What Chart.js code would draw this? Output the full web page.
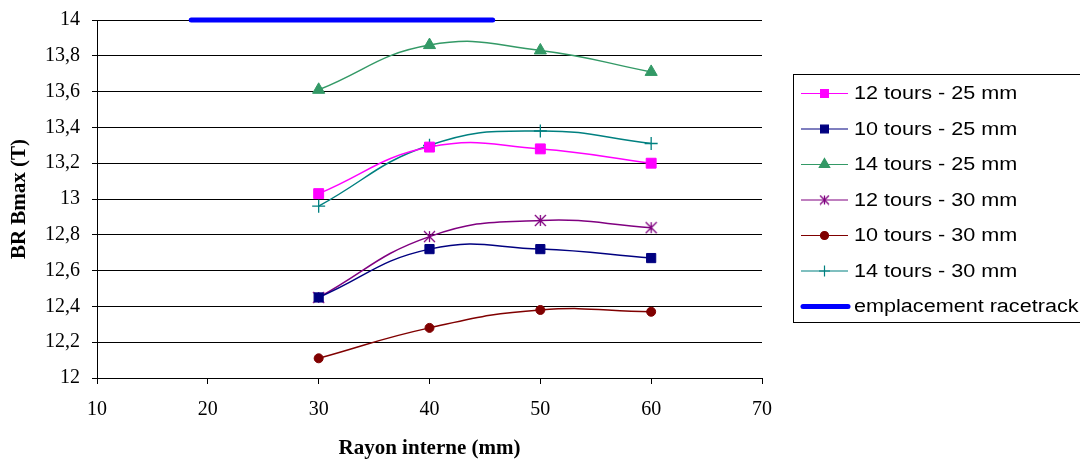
<!DOCTYPE html>
<html>
<head>
<meta charset="utf-8">
<script src="https://cdn.jsdelivr.net/npm/chart.js@4/dist/chart.umd.min.js"></script>
<style>
  html, body { margin: 0; padding: 0; background: #fff; }
  #wrap { width: 1080px; height: 461px; position: relative; }
</style>
</head>
<body>
<div id="wrap"><canvas id="myChart" width="1080" height="461"></canvas></div>
<script>
// rayon interne (mm)
var rayons = [30, 40, 50, 60];

// BR Bmax (T) par configuration
var t12_25 = [13.03, 13.29, 13.28, 13.20];
var t10_25 = [12.45, 12.72, 12.72, 12.67];
var t14_25 = [13.61, 13.86, 13.83, 13.71];
var t12_30 = [12.45, 12.79, 12.88, 12.84];
var t10_30 = [12.11, 12.28, 12.38, 12.37];
var t14_30 = [12.96, 13.30, 13.38, 13.31];

// emplacement racetrack
var racetrackX = [18.5, 45.7];
var racetrackY = [14, 14];

var noms = ['12 tours - 25 mm', '10 tours - 25 mm', '14 tours - 25 mm',
            '12 tours - 30 mm', '10 tours - 30 mm', '14 tours - 30 mm',
            'emplacement racetrack'];

var xTicks = [10, 20, 30, 40, 50, 60, 70];
var yMin = 12, yMax = 14, yStep = 0.2;

var serif = '"Liberation Serif", "Times New Roman", serif';

function pts(xs, ys) {
    return xs.map(function (x, i) { return { x: x, y: ys[i] }; });
}

// etoile facon Excel : X + trait vertical
function etoile(couleur, taille) {
    var c = document.createElement('canvas');
    c.width = taille; c.height = taille;
    var g = c.getContext('2d');
    var m = taille / 2, r = taille / 2 - 1;
    g.strokeStyle = couleur;
    g.lineWidth = 1.3;
    g.beginPath();
    g.moveTo(m, m - r); g.lineTo(m, m + r);
    g.moveTo(m - r, m - r); g.lineTo(m + r, m + r);
    g.moveTo(m + r, m - r); g.lineTo(m - r, m + r);
    g.stroke();
    return c;
}

function serie(nom, data, couleur, style, rayon) {
    return {
        label: nom,
        data: pts(rayons, data),
        borderColor: couleur,
        backgroundColor: couleur,
        borderWidth: 1.5,
        pointStyle: style,
        pointRadius: rayon,
        pointHoverRadius: rayon,
        pointBorderWidth: style == 'cross' ? 1.3 : 1,
        tension: 0.45,
        fill: false
    };
}

var datasets = [
    serie(noms[0], t12_25, '#FF00FF', 'rect', 7),
    serie(noms[1], t10_25, '#000080', 'rect', 6.5),
    serie(noms[2], t14_25, '#339966', 'triangle', 7),
    serie(noms[3], t12_30, '#800080', etoile('#800080', 13), 6),
    serie(noms[4], t10_30, '#800000', 'circle', 4.5),
    serie(noms[5], t14_30, '#008080', 'cross', 6.5),
    {
        label: noms[6],
        data: pts(racetrackX, racetrackY),
        borderColor: '#0000FF',
        backgroundColor: '#0000FF',
        borderWidth: 5,
        borderCapStyle: 'round',
        pointRadius: 0,
        pointStyle: false,
        tension: 0,
        clip: false
    }
];

var legendeMarques = [
    { style: 'rect', r: 5.5 },
    { style: 'rect', r: 5.5 },
    { style: 'triangle', r: 6 },
    { style: etoile('#800080', 11), r: 5 },
    { style: 'circle', r: 4 },
    { style: 'cross', r: 5.5 },
    null
];

// legende dessinee a la main (boite coupee a droite comme l'original)
var legendePlugin = {
    id: 'legende',
    afterDraw: function (chart) {
        var ctx = chart.ctx;
        var bx = 793, by = 74, bw = 300, bh = 248;
        ctx.save();
        ctx.strokeStyle = '#000';
        ctx.lineWidth = 1;
        ctx.strokeRect(bx + 0.5, by + 0.5, bw, bh);
        ctx.font = '18px "Liberation Sans", Arial, sans-serif';
        ctx.textBaseline = 'middle';
        chart.data.datasets.forEach(function (ds, i) {
            var y = 93.5 + i * 35.5;
            var mk = legendeMarques[i];
            ctx.strokeStyle = ds.borderColor;
            ctx.fillStyle = ds.borderColor;
            ctx.lineWidth = mk ? 1.2 : 5;
            ctx.lineCap = mk ? 'butt' : 'round';
            ctx.beginPath();
            ctx.moveTo(mk ? 801 : 803, y);
            ctx.lineTo(mk ? 848 : 848, y);
            ctx.stroke();
            if (mk) {
                Chart.helpers.drawPoint(ctx, {
                    pointStyle: mk.style,
                    radius: mk.r,
                    rotation: 0,
                    borderWidth: 1.2
                }, 824.5, y);
            }
            ctx.save();
            ctx.translate(854, y + 1);
            ctx.scale(1.2, 1);
            ctx.fillStyle = '#000';
            ctx.fillText(ds.label, 0, 0);
            ctx.restore();
        });
        ctx.restore();
    }
};

var ctx = document.getElementById('myChart').getContext('2d');
var myChart = new Chart(ctx, {
    type: 'line',
    data: { datasets: datasets },
    plugins: [legendePlugin],
    options: {
        responsive: false,
        animation: false,
        events: [],
        layout: { padding: { left: 0, right: 318, top: 20, bottom: 0 } },
        plugins: {
            legend: { display: false },
            tooltip: { enabled: false }
        },
        scales: {
            x: {
                type: 'linear',
                min: xTicks[0],
                max: xTicks[xTicks.length - 1],
                afterBuildTicks: function (scale) {
                    scale.ticks = xTicks.map(function (v) { return { value: v }; });
                },
                afterFit: function (scale) {
                    scale.height = 83;
                    scale.paddingLeft = 0;
                    scale.paddingRight = 0;
                },
                grid: {
                    drawOnChartArea: false,
                    drawTicks: true,
                    tickLength: 6,
                    color: '#000'
                },
                border: { display: true, color: '#000', width: 1 },
                ticks: {
                    color: '#000',
                    padding: 14,
                    maxRotation: 0,
                    font: { family: serif, size: 20 }
                },
                title: {
                    display: true,
                    text: 'Rayon interne (mm)',
                    color: '#000',
                    padding: { top: 0, bottom: 0 },
                    font: { family: serif, size: 21, weight: 'bold' }
                }
            },
            y: {
                type: 'linear',
                min: yMin,
                max: yMax,
                afterFit: function (scale) {
                    scale.width = 97;
                    scale.paddingTop = 0;
                    scale.paddingBottom = 0;
                },
                grid: {
                    color: '#000',
                    lineWidth: 1,
                    drawTicks: true,
                    tickLength: 5
                },
                border: { display: true, color: '#000', width: 1 },
                ticks: {
                    stepSize: yStep,
                    color: '#000',
                    padding: 12,
                    font: { family: serif, size: 20 },
                    callback: function (v) {
                        return (Math.round(v * 10) / 10).toString().replace('.', ',');
                    }
                },
                title: {
                    display: true,
                    text: 'BR Bmax (T)',
                    color: '#000',
                    padding: { top: 7, bottom: 0 },
                    font: { family: serif, size: 21, weight: 'bold' }
                }
            }
        }
    }
});
</script>
</body>
</html>
